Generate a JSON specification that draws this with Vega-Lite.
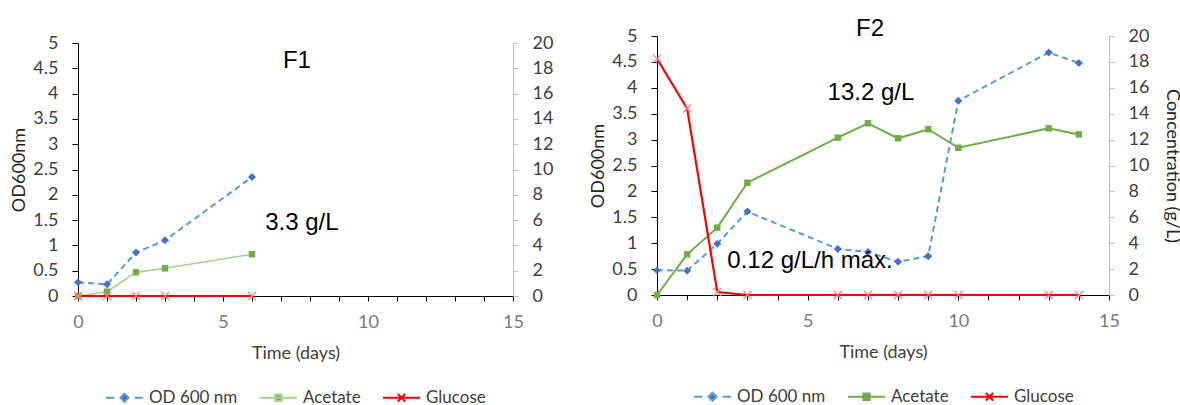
{
  "$schema": "https://vega.github.io/schema/vega-lite/v6.json",
  "background": "white",
  "padding": {"left": 10, "top": 16, "right": 0, "bottom": 0},
  "config": {
    "view": {"stroke": null},
    "axis": {"labelFont": "Lato", "titleFont": "Lato", "labelFontSize": 18, "titleFontSize": 18, "titleFontWeight": "normal", "grid": false, "labelColor": "#404040", "titleColor": "#262626", "labelOverlap": false, "labelFlush": false},
    "legend": {"labelFont": "Lato", "labelFontSize": 17, "labelColor": "#404040", "layout": {"bottom": {"anchor": "middle"}}}
  },
  "datasets": {
    "f1": [
      {"series": "OD 600 nm", "day": 0, "value": 0.27},
      {"series": "OD 600 nm", "day": 1, "value": 0.23},
      {"series": "OD 600 nm", "day": 2, "value": 0.86},
      {"series": "OD 600 nm", "day": 3, "value": 1.1},
      {"series": "OD 600 nm", "day": 6, "value": 2.35},
      {"series": "Acetate", "day": 0, "value": 0},
      {"series": "Acetate", "day": 1, "value": 0.34},
      {"series": "Acetate", "day": 2, "value": 1.87},
      {"series": "Acetate", "day": 3, "value": 2.19},
      {"series": "Acetate", "day": 6, "value": 3.3},
      {"series": "Glucose", "day": 0, "value": 0},
      {"series": "Glucose", "day": 1, "value": 0},
      {"series": "Glucose", "day": 2, "value": 0},
      {"series": "Glucose", "day": 3, "value": 0},
      {"series": "Glucose", "day": 6, "value": 0}
    ],
    "f2": [
      {"series": "OD 600 nm", "day": 0, "value": 0.48},
      {"series": "OD 600 nm", "day": 1, "value": 0.47},
      {"series": "OD 600 nm", "day": 2, "value": 0.99},
      {"series": "OD 600 nm", "day": 3, "value": 1.61},
      {"series": "OD 600 nm", "day": 6, "value": 0.89},
      {"series": "OD 600 nm", "day": 7, "value": 0.83},
      {"series": "OD 600 nm", "day": 8, "value": 0.64},
      {"series": "OD 600 nm", "day": 9, "value": 0.75},
      {"series": "OD 600 nm", "day": 10, "value": 3.75},
      {"series": "OD 600 nm", "day": 13, "value": 4.68},
      {"series": "OD 600 nm", "day": 14, "value": 4.48},
      {"series": "Acetate", "day": 0, "value": 0},
      {"series": "Acetate", "day": 1, "value": 3.14},
      {"series": "Acetate", "day": 2, "value": 5.2},
      {"series": "Acetate", "day": 3, "value": 8.67},
      {"series": "Acetate", "day": 6, "value": 12.15},
      {"series": "Acetate", "day": 7, "value": 13.26},
      {"series": "Acetate", "day": 8, "value": 12.1},
      {"series": "Acetate", "day": 9, "value": 12.8},
      {"series": "Acetate", "day": 10, "value": 11.37},
      {"series": "Acetate", "day": 13, "value": 12.87},
      {"series": "Acetate", "day": 14, "value": 12.4},
      {"series": "Glucose", "day": 0, "value": 18.25},
      {"series": "Glucose", "day": 1, "value": 14.4},
      {"series": "Glucose", "day": 2, "value": 0.23},
      {"series": "Glucose", "day": 3, "value": 0},
      {"series": "Glucose", "day": 6, "value": 0},
      {"series": "Glucose", "day": 7, "value": 0},
      {"series": "Glucose", "day": 8, "value": 0},
      {"series": "Glucose", "day": 9, "value": 0},
      {"series": "Glucose", "day": 10, "value": 0},
      {"series": "Glucose", "day": 13, "value": 0},
      {"series": "Glucose", "day": 14, "value": 0}
    ],
    "notes": [
      {"panel": "F1", "text": "F1", "day": 7.55, "value": 4.64},
      {"panel": "F1", "text": "3.3 g/L", "day": 7.72, "value": 1.44},
      {"panel": "F2", "text": "F2", "day": 7.07, "value": 5.14},
      {"panel": "F2", "text": "13.2 g/L", "day": 7.1, "value": 3.9},
      {"panel": "F2", "text": "0.12 g/L/h máx.", "day": 5.08, "value": 0.66}
    ]
  },
  "spacing": 144,
  "bounds": "flush",
  "resolve": {"scale": {"color": "independent"}, "legend": {"color": "independent"}},
  "hconcat": [
    {
      "width": 435,
      "height": 260,
      "layer": [
        {
          "layer": [
            {
              "data": {"name": "f1"},
              "transform": [{"filter": "datum.series === 'OD 600 nm'"}],
              "mark": {"type": "line", "strokeDash": [6, 4], "strokeWidth": 2},
              "encoding": {
                "x": {"field": "day", "type": "quantitative", "scale": {"domain": [0, 15], "nice": false}, "axis": {"values": [0,1,2,3,4,5,6,7,8,9,10,11,12,13,14,15], "tickCount": 50, "format": "~g", "labelFlush": false, "labelOverlap": false, "labelExpr": "datum.value % 5 === 0 ? datum.label : ''", "domainColor": "#000", "tickColor": "#000", "tickSize": 5, "labelColor": "#7a7a7a", "labelPadding": 12, "title": "Time (days)", "titlePadding": 13, "titleColor": "#404040"}},
                "y": {"field": "value", "type": "quantitative", "scale": {"domain": [0, 5], "range": [260, 7], "nice": false, "zero": false}, "axis": {"orient": "left", "values": [0,0.5,1,1.5,2,2.5,3,3.5,4,4.5,5], "tickCount": 50, "labelFlush": false, "labelOverlap": false, "format": "~g", "domainColor": "#000", "tickColor": "#000", "tickSize": 6, "labelPadding": 14, "title": "OD600nm", "titlePadding": 4}},
                "color": {"field": "series", "type": "nominal", "scale": {"domain": ["OD 600 nm", "Acetate", "Glucose"], "range": ["#5b9bd5", "#a9d18e", "#ff0000"]},
                  "legend": {"title": null, "orient": "bottom", "direction": "horizontal", "symbolSize": 1369, "columnPadding": 18, "labelOffset": 5, "offset": 16,
                    "encode": {"symbols": {"update": {
                      "shape": {"signal": "datum.value === 'OD 600 nm' ? 'M-1,0L-0.55,0M0.55,0L1,0M0,-0.22L0.22,0L0,0.22L-0.22,0Z' : datum.value === 'Acetate' ? 'M-1,0L1,0M-0.17,-0.17L0.17,-0.17L0.17,0.17L-0.17,0.17Z' : 'M-1,0L1,0M-0.2,-0.2L0.2,0.2M-0.2,0.2L0.2,-0.2'"},
                      "stroke": {"signal": "datum.value === 'OD 600 nm' ? '#5b9bd5' : datum.value === 'Acetate' ? '#a9d18e' : '#ff0000'"},
                      "fill": {"signal": "datum.value === 'OD 600 nm' ? '#4472c4' : datum.value === 'Acetate' ? '#70ad47' : 'transparent'"},
                      "strokeWidth": {"value": 2},
                      "opacity": {"value": 1}
                    }}}}}
              }
            },
            {
              "data": {"name": "f1"},
              "transform": [{"filter": "datum.series === 'OD 600 nm'"}],
              "mark": {"type": "point", "shape": "diamond", "filled": true, "color": "#4472c4", "size": 64, "opacity": 1},
              "encoding": {
                "x": {"field": "day", "type": "quantitative"},
                "y": {"field": "value", "type": "quantitative"}
              }
            },
            {
              "data": {"name": "notes"},
              "transform": [{"filter": "datum.panel === 'F1'"}],
              "mark": {"type": "text", "font": "Liberation Sans", "fontSize": 24, "color": "#000", "align": "center", "baseline": "middle"},
              "encoding": {
                "x": {"field": "day", "type": "quantitative"},
                "y": {"field": "value", "type": "quantitative"},
                "text": {"field": "text"}
              }
            }
          ]
        },
        {
          "layer": [
            {
              "data": {"name": "f1"},
              "transform": [{"filter": "datum.series === 'Acetate'"}],
              "mark": {"type": "line", "strokeWidth": 1.6},
              "encoding": {
                "x": {"field": "day", "type": "quantitative"},
                "y": {"field": "value", "type": "quantitative", "scale": {"domain": [0, 20], "range": [260, 7], "nice": false, "zero": false}, "axis": {"orient": "right", "values": [0,2,4,6,8,10,12,14,16,18,20], "tickCount": 50, "format": "~g", "labelFlush": false, "labelOverlap": false, "domainColor": "#bfbfbf", "tickColor": "#bfbfbf", "tickSize": 5, "labelPadding": 14, "title": null}},
                "color": {"field": "series", "type": "nominal"}
              }
            },
            {
              "data": {"name": "f1"},
              "transform": [{"filter": "datum.series === 'Glucose'"}],
              "mark": {"type": "line", "strokeWidth": 2},
              "encoding": {
                "x": {"field": "day", "type": "quantitative"},
                "y": {"field": "value", "type": "quantitative"},
                "color": {"field": "series", "type": "nominal"}
              }
            },
            {
              "data": {"name": "f1"},
              "transform": [{"filter": "datum.series === 'Acetate'"}],
              "mark": {"type": "point", "shape": "square", "filled": true, "color": "#70ad47", "size": 42, "opacity": 1},
              "encoding": {
                "x": {"field": "day", "type": "quantitative"},
                "y": {"field": "value", "type": "quantitative"}
              }
            },
            {
              "data": {"name": "f1"},
              "transform": [{"filter": "datum.series === 'Glucose'"}],
              "mark": {"type": "point", "shape": "M-1,-1L1,1M-1,1L1,-1", "filled": false, "stroke": "#ff7f7f", "strokeWidth": 1.3, "size": 64, "opacity": 1},
              "encoding": {
                "x": {"field": "day", "type": "quantitative"},
                "y": {"field": "value", "type": "quantitative"}
              }
            }
          ]
        }
      ],
      "resolve": {"scale": {"y": "independent"}}
    },
    {
      "width": 452,
      "height": 259,
      "layer": [
        {
          "layer": [
            {
              "data": {"name": "f2"},
              "transform": [{"filter": "datum.series === 'OD 600 nm'"}],
              "mark": {"type": "line", "strokeDash": [6, 4], "strokeWidth": 2},
              "encoding": {
                "x": {"field": "day", "type": "quantitative", "scale": {"domain": [0, 15], "nice": false}, "axis": {"values": [0,1,2,3,4,5,6,7,8,9,10,11,12,13,14,15], "tickCount": 50, "format": "~g", "labelFlush": false, "labelOverlap": false, "labelExpr": "datum.value % 5 === 0 ? datum.label : ''", "domainColor": "#000", "tickColor": "#000", "tickSize": 5, "labelColor": "#7a7a7a", "labelPadding": 12, "title": "Time (days)", "titlePadding": 13, "titleColor": "#404040"}},
                "y": {"field": "value", "type": "quantitative", "scale": {"domain": [0, 5], "nice": false, "zero": false}, "axis": {"orient": "left", "values": [0,0.5,1,1.5,2,2.5,3,3.5,4,4.5,5], "tickCount": 50, "labelFlush": false, "labelOverlap": false, "format": "~g", "domainColor": "#000", "tickColor": "#000", "tickSize": 6, "labelPadding": 14, "title": "OD600nm", "titlePadding": 4}},
                "color": {"field": "series", "type": "nominal", "scale": {"domain": ["OD 600 nm", "Acetate", "Glucose"], "range": ["#5b9bd5", "#70ad47", "#ff0000"]},
                  "legend": {"title": null, "orient": "bottom", "direction": "horizontal", "symbolSize": 1369, "columnPadding": 18, "labelOffset": 5, "offset": 16,
                    "encode": {"symbols": {"update": {
                      "shape": {"signal": "datum.value === 'OD 600 nm' ? 'M-1,0L-0.55,0M0.55,0L1,0M0,-0.22L0.22,0L0,0.22L-0.22,0Z' : datum.value === 'Acetate' ? 'M-1,0L1,0M-0.17,-0.17L0.17,-0.17L0.17,0.17L-0.17,0.17Z' : 'M-1,0L1,0M-0.2,-0.2L0.2,0.2M-0.2,0.2L0.2,-0.2'"},
                      "stroke": {"signal": "datum.value === 'OD 600 nm' ? '#5b9bd5' : datum.value === 'Acetate' ? '#70ad47' : '#ff0000'"},
                      "fill": {"signal": "datum.value === 'OD 600 nm' ? '#4472c4' : datum.value === 'Acetate' ? '#70ad47' : 'transparent'"},
                      "strokeWidth": {"value": 2},
                      "opacity": {"value": 1}
                    }}}}}
              }
            },
            {
              "data": {"name": "f2"},
              "transform": [{"filter": "datum.series === 'OD 600 nm'"}],
              "mark": {"type": "point", "shape": "diamond", "filled": true, "color": "#4472c4", "size": 64, "opacity": 1},
              "encoding": {
                "x": {"field": "day", "type": "quantitative"},
                "y": {"field": "value", "type": "quantitative"}
              }
            },
            {
              "data": {"name": "notes"},
              "transform": [{"filter": "datum.panel === 'F2'"}],
              "mark": {"type": "text", "font": "Liberation Sans", "fontSize": 24, "color": "#000", "align": "center", "baseline": "middle"},
              "encoding": {
                "x": {"field": "day", "type": "quantitative"},
                "y": {"field": "value", "type": "quantitative"},
                "text": {"field": "text"}
              }
            }
          ]
        },
        {
          "layer": [
            {
              "data": {"name": "f2"},
              "transform": [{"filter": "datum.series === 'Acetate'"}],
              "mark": {"type": "line", "strokeWidth": 2},
              "encoding": {
                "x": {"field": "day", "type": "quantitative"},
                "y": {"field": "value", "type": "quantitative", "scale": {"domain": [0, 20], "nice": false, "zero": false}, "axis": {"orient": "right", "values": [0,2,4,6,8,10,12,14,16,18,20], "tickCount": 50, "format": "~g", "labelFlush": false, "labelOverlap": false, "domainColor": "#bfbfbf", "tickColor": "#bfbfbf", "tickSize": 5, "labelPadding": 14, "title": "Concentration (g/L)", "titlePadding": 14}},
                "color": {"field": "series", "type": "nominal"}
              }
            },
            {
              "data": {"name": "f2"},
              "transform": [{"filter": "datum.series === 'Glucose'"}],
              "mark": {"type": "line", "strokeWidth": 2.2},
              "encoding": {
                "x": {"field": "day", "type": "quantitative"},
                "y": {"field": "value", "type": "quantitative"},
                "color": {"field": "series", "type": "nominal"}
              }
            },
            {
              "data": {"name": "f2"},
              "transform": [{"filter": "datum.series === 'Acetate'"}],
              "mark": {"type": "point", "shape": "square", "filled": true, "color": "#70ad47", "size": 42, "opacity": 1},
              "encoding": {
                "x": {"field": "day", "type": "quantitative"},
                "y": {"field": "value", "type": "quantitative"}
              }
            },
            {
              "data": {"name": "f2"},
              "transform": [{"filter": "datum.series === 'Glucose'"}],
              "mark": {"type": "point", "shape": "M-1,-1L1,1M-1,1L1,-1", "filled": false, "stroke": "#ff7f7f", "strokeWidth": 1.3, "size": 64, "opacity": 1},
              "encoding": {
                "x": {"field": "day", "type": "quantitative"},
                "y": {"field": "value", "type": "quantitative"}
              }
            }
          ]
        }
      ],
      "resolve": {"scale": {"y": "independent"}}
    }
  ]
}
